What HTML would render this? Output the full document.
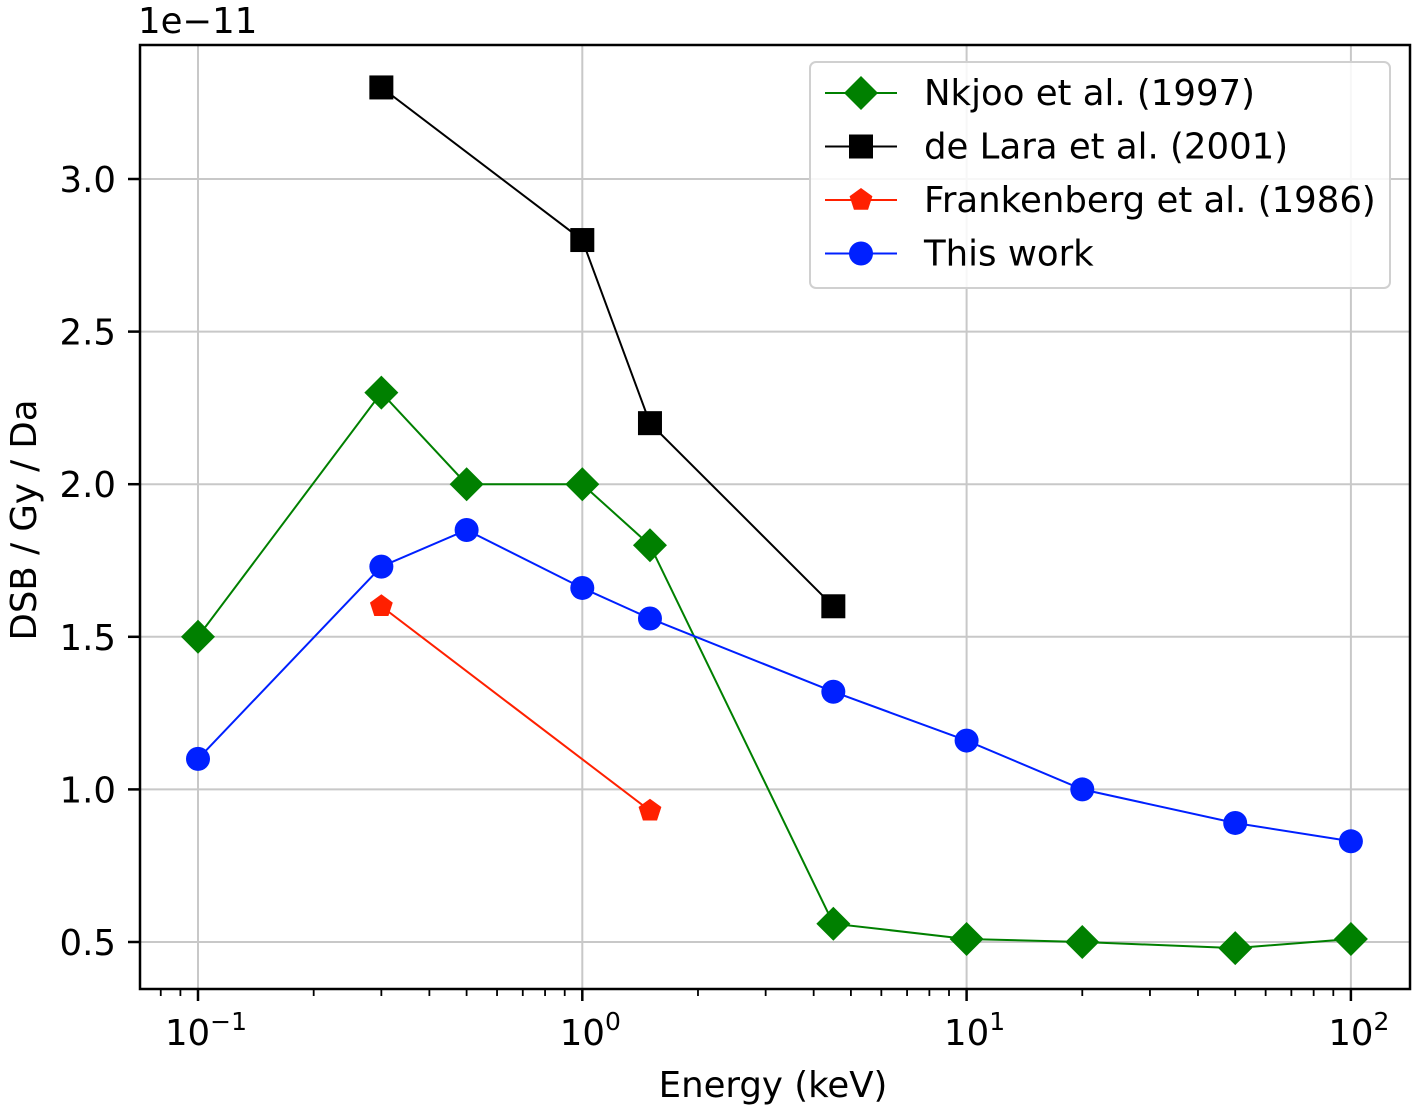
<!DOCTYPE html>
<html><head><meta charset="utf-8"><style>
html,body{margin:0;padding:0;background:#fff;}
svg{display:block;font-family:"DejaVu Sans","Liberation Sans",sans-serif;}
</style></head><body>
<svg id="chart" width="1418" height="1112" viewBox="0 0 1418 1112"></svg>
<script>
const energies = [0.1,0.3,0.5,1,1.5,4.5,10,20,50,100];
const nkjooX = [0.1,0.3,0.5,1,1.5,4.5,10,20,50,100];
const nkjooY = [1.5,2.3,2.0,2.0,1.8,0.56,0.51,0.50,0.48,0.51];
const delaraX = [0.3,1,1.5,4.5];
const delaraY = [3.3,2.8,2.2,1.6];
const frankX = [0.3,1.5];
const frankY = [1.6,0.93];
const thisX = [0.1,0.3,0.5,1,1.5,4.5,10,20,50,100];
const thisY = [1.1,1.73,1.85,1.66,1.56,1.32,1.16,1.0,0.89,0.83];
const yTicks = [0.5,1.0,1.5,2.0,2.5,3.0];
const yTickLabels = ["0.5","1.0","1.5","2.0","2.5","3.0"];
const xDecades = [-1,0,1,2];

const NS="http://www.w3.org/2000/svg";
const svg=document.getElementById('chart');
const L=140,R=1410,T=45,B=989;
const dec=384.3;
const FS=35.5;
function xs(v){return 198+(Math.log10(v)+1)*dec;}
function ys(v){return 942-(v-0.5)*305.2;}
function mk(tag,attrs,parent){const e=document.createElementNS(NS,tag);for(const k in attrs)e.setAttribute(k,attrs[k]);(parent||svg).appendChild(e);return e;}

xDecades.forEach(d=>{const x=xs(Math.pow(10,d));
 const g=mk('line',{x1:x,x2:x,y1:T,y2:B,stroke:'#c8c8c8','stroke-width':2});
 
 });
yTicks.forEach(v=>{const y=ys(v);
 const g=mk('line',{x1:L,x2:R,y1:y,y2:y,stroke:'#c8c8c8','stroke-width':2});
 
 });

const fr=mk('rect',{x:L,y:T,width:R-L,height:B-T,fill:'none',stroke:'#000','stroke-width':2.5});



for(let d=-2;d<=2;d++){for(let m=1;m<10;m++){const v=m*Math.pow(10,d);const x=xs(v);if(x<L||x>R)continue;
 const major=m===1;mk('line',{x1:x,x2:x,y1:B,y2:B+(major?12:7),stroke:'#000','stroke-width':major?2.5:1.8});}}
xDecades.forEach(d=>{const x=xs(Math.pow(10,d));
 const t=mk('text',{x:x+8,y:B+56,'font-size':FS,'text-anchor':'middle'});
 
 
 t.innerHTML='10<tspan dy="-15" font-size="25">'+(d<0?'\u2212'+(-d):d)+'</tspan>';});
yTicks.forEach((v,i)=>{const y=ys(v);
 mk('line',{x1:L-12,x2:L,y1:y,y2:y,stroke:'#000','stroke-width':2.5});
 const t=mk('text',{x:L-24,y:y+13,'font-size':FS,'text-anchor':'end'});
 
 
 t.textContent=yTickLabels[i];});
let t=mk('text',{x:138,y:33,'font-size':FS});


t.textContent='1e\u221211';
t=mk('text',{x:773,y:1097,'font-size':FS,'text-anchor':'middle'});


t.textContent='Energy (keV)';
t=mk('text',{x:0,y:0,'font-size':FS,'text-anchor':'middle',transform:'translate(36,520) rotate(-90)'});


t.textContent='DSB / Gy / Da';

function marker(shape,x,y,color,parent){
 if(shape==='D'){return mk('polygon',{points:`${x},${y-17} ${x+17},${y} ${x},${y+17} ${x-17},${y}`,fill:color},parent);}
 if(shape==='s'){return mk('rect',{x:x-12,y:y-12,width:24,height:24,fill:color},parent);}
 if(shape==='p'){let p=[];for(let i=0;i<5;i++){const a=-Math.PI/2+i*2*Math.PI/5;p.push((x+12*Math.cos(a))+','+(y+12*Math.sin(a)));}return mk('polygon',{points:p.join(' '),fill:color},parent);}
 return mk('circle',{cx:x,cy:y,r:12,fill:color},parent);
}
function series(name,X,Y,color,shape){
 const g=mk('g',{});
 
 
 mk('polyline',{points:X.map((v,i)=>xs(v)+','+ys(Y[i])).join(' '),fill:'none',stroke:color,'stroke-width':2},g);
 X.forEach((v,i)=>{const m=marker(shape,xs(v),ys(Y[i]),color,g);
  
  });
}
series('nkjoo-series',nkjooX,nkjooY,'#008000','D');
series('de-lara-series',delaraX,delaraY,'#000000','s');
series('frankenberg-series',frankX,frankY,'#ff2000','p');
series('this-work-series',thisX,thisY,'#0020ff','o');

const lg=mk('g',{});


mk('rect',{x:810,y:62,width:580,height:226,rx:6,fill:'#fff','fill-opacity':0.85,stroke:'#d0d0d0','stroke-width':2},lg);
const ents=[['Nkjoo et al. (1997)','#008000','D'],['de Lara et al. (2001)','#000000','s'],['Frankenberg et al. (1986)','#ff2000','p'],['This work','#0020ff','o']];
ents.forEach((e,i)=>{const y=93+i*53.5;
 const eg=mk('g',{},lg);
 
 
 mk('line',{x1:825,x2:897,y1:y,y2:y,stroke:e[1],'stroke-width':2},eg);
 marker(e[2],861,y,e[1],eg);
 const tt=mk('text',{x:924,y:y+12,'font-size':FS},eg);tt.textContent=e[0];});
</script>
</body></html>
